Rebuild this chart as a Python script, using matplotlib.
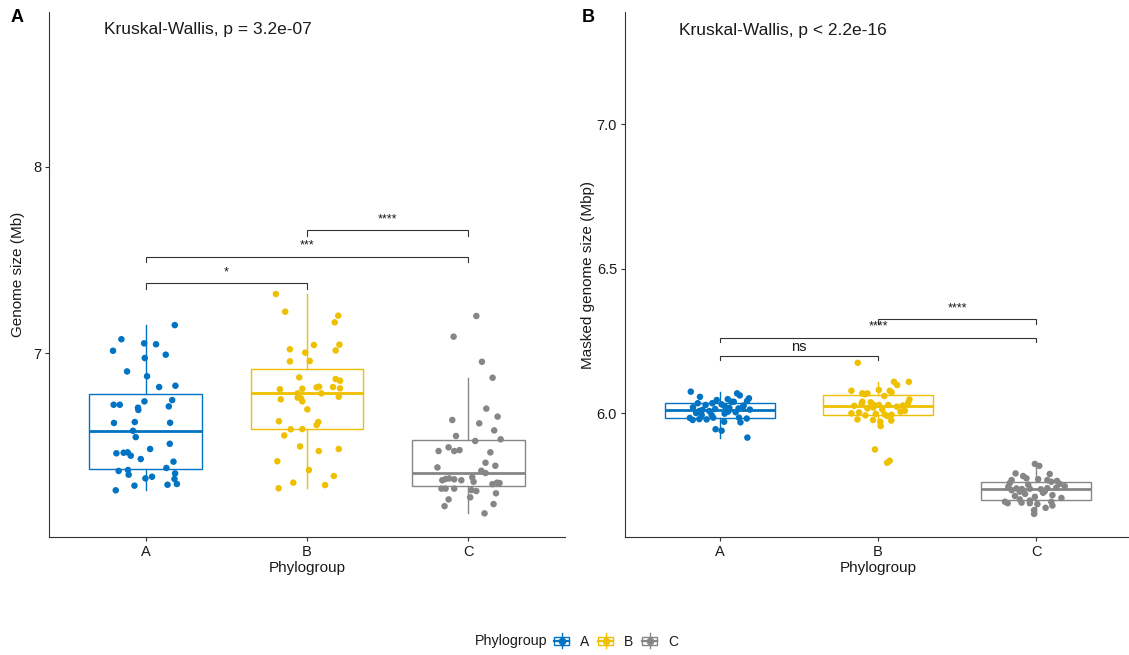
import matplotlib
matplotlib.use("Agg")
import matplotlib.pyplot as plt
from matplotlib.legend_handler import HandlerBase
from matplotlib.lines import Line2D
from matplotlib.patches import Rectangle

plt.rcParams['font.family'] = ['Liberation Sans', 'DejaVu Sans']

# ---------------------------------------------------------------- data
groups = ["A", "B", "C"]
colors = ["#0073C2", "#EFC000", "#868686"]

# Genome size (Mb) per strain, by phylogroup
genome_A = [7.150, 7.074, 7.052, 7.047, 7.012, 6.991, 6.973, 6.901, 6.875, 6.817,
            6.824, 6.747, 6.740, 6.722, 6.722, 6.713, 6.706, 6.694, 6.624, 6.629,
            6.625, 6.582, 6.548, 6.512, 6.484, 6.461, 6.464, 6.466, 6.448, 6.430,
            6.416, 6.366, 6.371, 6.346, 6.382, 6.353, 6.323, 6.335, 6.326, 6.296,
            6.292, 6.287, 6.262]
genome_B = [7.317, 7.222, 7.201, 7.165, 7.045, 7.043, 7.020, 7.014, 7.002, 6.957,
            6.955, 6.869, 6.860, 6.851, 6.819, 6.817, 6.815, 6.810, 6.808, 6.805,
            6.783, 6.783, 6.765, 6.760, 6.756, 6.751, 6.740, 6.697, 6.633, 6.629,
            6.613, 6.591, 6.590, 6.557, 6.498, 6.484, 6.473, 6.418, 6.371, 6.339,
            6.303, 6.290, 6.273]
genome_C = [7.199, 7.088, 6.953, 6.867, 6.701, 6.658, 6.640, 6.622, 6.584, 6.554,
            6.536, 6.527, 6.493, 6.473, 6.473, 6.478, 6.466, 6.410, 6.385, 6.394,
            6.367, 6.355, 6.316, 6.323, 6.326, 6.321, 6.316, 6.332, 6.308, 6.303,
            6.301, 6.271, 6.271, 6.271, 6.263, 6.258, 6.246, 6.224, 6.213, 6.188,
            6.177, 6.138, 6.295]

# Masked genome size (Mbp) per strain, by phylogroup
masked_A = [6.074, 6.068, 6.061, 6.056, 6.051, 6.048, 6.045, 6.042, 6.039, 6.039,
            6.034, 6.034, 6.030, 6.028, 6.026, 6.024, 6.022, 6.020, 6.018, 6.016,
            6.014, 6.012, 6.011, 6.007, 6.007, 6.005, 6.003, 6.000, 5.998, 5.993,
            5.993, 5.984, 5.984, 5.983, 5.981, 5.979, 5.978, 5.976, 5.970, 5.968,
            5.944, 5.939, 5.915]
masked_B = [6.174, 6.108, 6.108, 6.097, 6.080, 6.077, 6.077, 6.072, 6.068, 6.068,
            6.065, 6.059, 6.047, 6.039, 6.037, 6.036, 6.033, 6.030, 6.028, 6.028,
            6.026, 6.025, 6.022, 6.019, 6.016, 6.012, 6.008, 6.005, 6.002, 5.999,
            5.997, 5.995, 5.994, 5.992, 5.990, 5.978, 5.976, 5.974, 5.970, 5.955,
            5.874, 5.835, 5.828]
masked_C = [5.824, 5.817, 5.791, 5.789, 5.782, 5.774, 5.771, 5.768, 5.768, 5.765,
            5.762, 5.758, 5.755, 5.752, 5.747, 5.745, 5.742, 5.740, 5.739, 5.738,
            5.737, 5.736, 5.733, 5.730, 5.728, 5.724, 5.720, 5.716, 5.713, 5.710,
            5.706, 5.701, 5.697, 5.693, 5.693, 5.690, 5.688, 5.688, 5.685, 5.680,
            5.672, 5.664, 5.651]

# horizontal jitter of each point (fraction of category spacing)
jit_genome_A = [0.180, -0.151, -0.010, 0.064, -0.203, 0.124, -0.006, -0.116, 0.008, 0.083,
                0.184, 0.164, -0.008, -0.199, -0.161, 0.143, -0.048, -0.046, -0.197, -0.068,
                0.151, -0.079, -0.062, 0.149, 0.027, -0.182, -0.137, -0.112, -0.093, -0.031,
                0.172, -0.168, -0.110, -0.106, 0.128, 0.182, 0.178, 0.039, -0.002, 0.193,
                0.135, -0.070, -0.186]
jit_genome_B = [-0.193, -0.135, 0.194, 0.172, 0.201, 0.043, -0.106, 0.178, -0.011, 0.017,
                -0.106, -0.048, 0.178, 0.205, 0.075, 0.161, 0.060, 0.205, -0.029, -0.168,
                -0.058, 0.089, 0.197, -0.058, -0.037, -0.163, -0.029, 0.002, -0.174, 0.070,
                0.060, -0.029, -0.101, -0.141, -0.043, 0.197, 0.073, -0.184, 0.012, 0.166,
                -0.085, 0.112, -0.176]
jit_genome_C = [0.050, -0.091, 0.085, 0.151, 0.112, 0.182, -0.099, 0.068, 0.161, -0.076,
                0.201, 0.043, -0.122, -0.184, -0.087, -0.054, 0.137, 0.107, -0.191, 0.168,
                0.081, 0.107, -0.161, -0.139, -0.118, -0.087, -0.043, 0.025, 0.033, 0.178,
                0.194, -0.166, -0.141, -0.087, 0.020, 0.050, 0.172, 0.012, -0.122, 0.157,
                -0.147, 0.101, 0.150]
jit_masked_A = [-0.184, 0.109, 0.126, -0.126, 0.184, 0.050, -0.020, 0.172, 0.074, 0.088,
                -0.140, -0.048, 0.011, -0.090, 0.150, 0.030, 0.147, -0.170, 0.060, 0.118,
                -0.030, 0.190, -0.110, -0.130, -0.067, 0.052, 0.100, -0.150, 0.030, -0.115,
                -0.052, -0.042, 0.121, -0.190, 0.170, -0.130, -0.084, -0.172, 0.027, 0.130,
                -0.027, 0.011, 0.174]
jit_masked_B = [-0.128, 0.195, 0.101, 0.121, 0.005, -0.168, 0.074, 0.086, -0.067, -0.100,
                -0.084, 0.040, 0.199, -0.099, -0.046, 0.191, -0.103, -0.031, 0.006, 0.065,
                0.157, -0.150, 0.120, -0.030, -0.067, 0.027, 0.170, 0.143, -0.120, -0.168,
                -0.014, 0.042, 0.086, -0.080, 0.058, -0.130, -0.031, 0.084, 0.015, 0.017,
                -0.019, 0.074, 0.058]
jit_masked_C = [-0.008, 0.020, -0.130, 0.086, -0.082, -0.061, 0.013, -0.155, 0.071, 0.132,
                0.096, -0.166, 0.149, -0.050, 0.181, -0.176, 0.128, 0.071, -0.124, -0.040,
                -0.090, 0.030, -0.155, 0.055, -0.103, 0.044, -0.070, 0.103, -0.134, -0.008,
                0.160, -0.103, -0.040, 0.096, -0.197, -0.092, -0.180, -0.040, 0.008, 0.103,
                0.060, -0.013, -0.013]

# pairwise comparisons (group index pairs) and their significance labels
pairs = [(0, 1), (0, 2), (1, 2)]
genome_signif = ["*", "***", "****"]
masked_signif = ["ns", "****", "****"]
genome_kw = "Kruskal-Wallis, p = 3.2e-07"
masked_kw = "Kruskal-Wallis, p < 2.2e-16"

genome_yticks = [7, 8]
genome_yticklabels = ["7", "8"]
masked_yticks = [6.0, 6.5, 7.0]
masked_yticklabels = ["6.0", "6.5", "7.0"]

# ---------------------------------------------------------------- layout
W, H = 1129, 655
fig = plt.figure(figsize=(W / 100, H / 100), dpi=100)
fig.patch.set_facecolor("white")


def px_rect(left, top, right, bottom):
    return [left / W, 1 - bottom / H, (right - left) / W, (bottom - top) / H]


ax_a = fig.add_axes(px_rect(49, 12, 565, 537))
ax_b = fig.add_axes(px_rect(625, 12, 1131, 537))

TEXT = "#1a1a1a"
AXIS = "#333333"


def draw_panel(ax, values, jitters, ylim, yticks, yticklabels, ylabel, ylabel_x,
               signif, bracket_y, tick_len, kw_text, kw_xy):
    ax.set_xlim(-0.6, 2.6)
    ax.set_ylim(*ylim)
    bp = ax.boxplot(values, positions=range(len(groups)), widths=0.7,
                    showfliers=False, showcaps=False, whis=1.5,
                    patch_artist=True, manage_ticks=False, zorder=2)
    for i, c in enumerate(colors):
        bp["boxes"][i].set(facecolor="white", edgecolor=c, linewidth=1.0)
        bp["medians"][i].set(color=c, linewidth=2.0, solid_capstyle="butt")
        for w in bp["whiskers"][2 * i:2 * i + 2]:
            w.set(color=c, linewidth=1.0)
    for i, (vals, jit) in enumerate(zip(values, jitters)):
        ax.scatter([i + j for j in jit], vals, s=22, color=colors[i],
                   edgecolors="none", zorder=3)

    # significance brackets
    for (g1, g2), lab, yb in zip(pairs, signif, bracket_y):
        ax.plot([g1, g1, g2, g2], [yb - tick_len, yb, yb, yb - tick_len],
                color=AXIS, lw=0.8, zorder=4, solid_joinstyle="miter")
        if lab == "ns":
            fs, lift = 10.5, 1.2
        else:
            fs, lift = 9, 3.5
        ax.annotate(lab, xy=((g1 + g2) / 2, yb), xytext=(0, lift),
                    textcoords="offset points", ha="center", va="bottom",
                    fontsize=fs, color=TEXT, zorder=5)

    ax.text(kw_xy[0], kw_xy[1], kw_text, ha="left", va="center",
            fontsize=12.5, color=TEXT)

    ax.set_xticks(range(len(groups)))
    ax.set_xticklabels(groups)
    ax.set_yticks(yticks)
    ax.set_yticklabels(yticklabels)
    ax.tick_params(axis="both", length=2.7, width=0.8, color=AXIS,
                   labelsize=10.5, labelcolor=TEXT, pad=3)
    for s in ("top", "right"):
        ax.spines[s].set_visible(False)
    for s in ("left", "bottom"):
        ax.spines[s].set_linewidth(0.8)
        ax.spines[s].set_color(AXIS)
    ax.set_xlabel("Phylogroup", fontsize=11, color=TEXT)
    ax.xaxis.set_label_coords(0.5, -0.0457)
    ax.set_ylabel(ylabel, fontsize=11, color=TEXT)
    ax.yaxis.set_label_coords(ylabel_x, 0.5)


draw_panel(ax_a, [genome_A, genome_B, genome_C],
           [jit_genome_A, jit_genome_B, jit_genome_C],
           (6.011, 8.833), genome_yticks, genome_yticklabels,
           "Genome size (Mb)", -0.0465,
           genome_signif, [7.375, 7.518, 7.661], 0.030,
           genome_kw, (-0.26, 8.737))

draw_panel(ax_b, [masked_A, masked_B, masked_C],
           [jit_masked_A, jit_masked_B, jit_masked_C],
           (5.571, 7.388), masked_yticks, masked_yticklabels,
           "Masked genome size (Mbp)", -0.059,
           masked_signif, [6.198, 6.261, 6.324], 0.016,
           masked_kw, (-0.26, 7.325))

fig.text(11 / W, 1 - 18 / H, "A", fontsize=13, fontweight="bold",
         ha="left", va="center", color="black")
fig.text(582 / W, 1 - 18 / H, "B", fontsize=13, fontweight="bold",
         ha="left", va="center", color="black")


# ---------------------------------------------------------------- legend
class BoxKey(HandlerBase):
    def create_artists(self, legend, orig_handle, xdescent, ydescent,
                       width, height, fontsize, trans):
        c = orig_handle.get_color()
        x0, y0 = -xdescent, -ydescent
        xm, ym = x0 + width / 2, y0 + height / 2
        wl = Line2D([xm, xm], [y0, y0 + height], color=c, lw=1.0,
                    transform=trans)
        box = Rectangle((x0 + 0.06 * width, y0 + 0.22 * height),
                        0.88 * width, 0.56 * height, facecolor="white",
                        edgecolor=c, lw=1.0, transform=trans)
        wl2 = Line2D([xm, xm], [y0 + 0.22 * height, y0 + 0.78 * height],
                     color=c, lw=1.0, transform=trans)
        med = Line2D([x0 + 0.06 * width, x0 + 0.94 * width], [ym, ym],
                     color=c, lw=1.6, transform=trans)
        dot = Line2D([xm], [ym], marker="o", ms=4.5, color=c, ls="none",
                     transform=trans)
        return [wl, box, wl2, med, dot]


handles = [Line2D([], [], color=c) for c in colors]
fig.legend(handles, groups, handler_map={Line2D: BoxKey()},
           loc="center left", bbox_to_anchor=(553 / W, 1 - 641 / H),
           ncol=3, frameon=False, handlelength=1.25, handleheight=1.25,
           handletextpad=0.7, columnspacing=0.55, fontsize=10,
           borderpad=0, borderaxespad=0, labelcolor=TEXT)
fig.text(475 / W, 1 - 641 / H, "Phylogroup", fontsize=10.3, color=TEXT,
         ha="left", va="center")

fig.savefig("out.png", dpi=100, facecolor="white")
